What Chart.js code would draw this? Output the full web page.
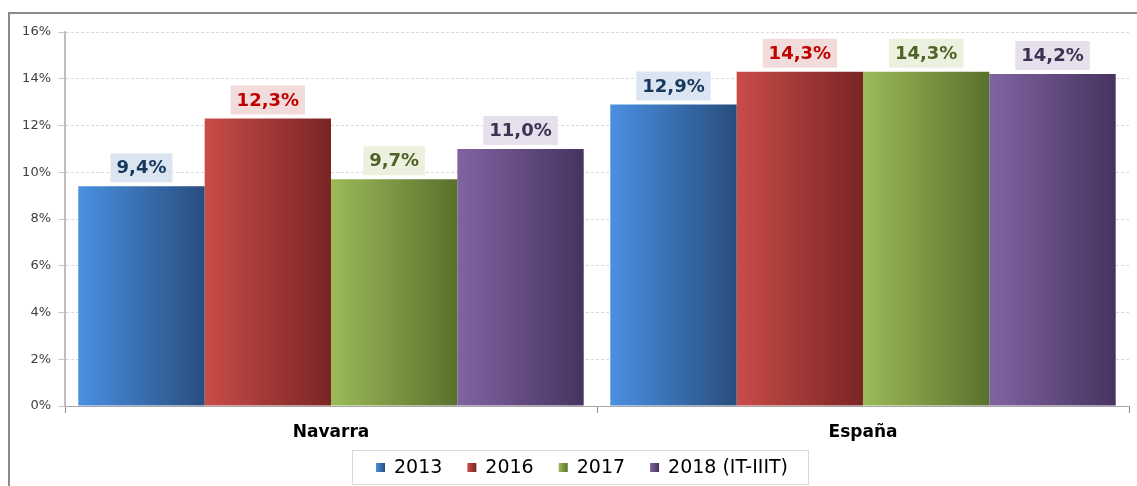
<!DOCTYPE html>
<html>
<head>
<meta charset="utf-8">
<script src="https://cdn.jsdelivr.net/npm/chart.js@4/dist/chart.umd.min.js"></script>
<style>
  html, body { margin: 0; padding: 0; background: #fff; }
  #wrap { width: 1137px; height: 486px; position: relative; }
</style>
</head>
<body>
<div id="wrap"><canvas id="chart" width="1137" height="486"></canvas></div>
<script>
'use strict'

var regions = ['Navarra', 'España'];
var seriesNames = ['2013', '2016', '2017', '2018 (IT-IIIT)'];
var values2013 = [9.4, 12.9];
var values2016 = [12.3, 14.3];
var values2017 = [9.7, 14.3];
var values2018 = [11.0, 14.2];
var yTicks = [0, 2, 4, 6, 8, 10, 12, 14, 16];

// left / right colour of each bar gradient, label text and label box
var barLight = ['#4a90e2', '#c94c48', '#9bbb59', '#8064a2'];
var barDark = ['#284d7e', '#792525', '#5a702c', '#473360'];
var labelText = ['#17375e', '#c00000', '#4f6228', '#3f3151'];
var labelBox = ['#dbe5f1', '#f2dcdb', '#ebf1de', '#e5e0ec'];

var FONT = '"DejaVu Sans", Verdana, sans-serif';
var CAT_PCT = 0.95;

function barGradient(ctx) {
    var chart = ctx.chart;
    var area = chart.chartArea;
    var i = ctx.datasetIndex;
    if (!area || ctx.dataIndex === undefined) {
        return barLight[i];
    }
    var xScale = chart.scales.x;
    var catW = (area.right - area.left) / regions.length;
    var barW = catW * CAT_PCT / seriesNames.length;
    var center = xScale.getPixelForValue(ctx.dataIndex);
    var x0 = center - catW * CAT_PCT / 2 + i * barW;
    var g = chart.ctx.createLinearGradient(x0, 0, x0 + barW, 0);
    g.addColorStop(0, barLight[i]);
    g.addColorStop(1, barDark[i]);
    return g;
}

function makeDataset(idx, values) {
    return {
        label: seriesNames[idx],
        data: values,
        backgroundColor: barGradient,
        borderWidth: 0,
        categoryPercentage: CAT_PCT,
        barPercentage: 1.0
    };
}

// outer frame of the chart (left and top edges)
var framePlugin = {
    id: 'frame',
    beforeDraw: function (chart) {
        var c = chart.ctx;
        c.save();
        c.strokeStyle = '#8a8a8a';
        c.lineWidth = 2;
        c.beginPath();
        c.moveTo(9, 486);
        c.lineTo(9, 13);
        c.lineTo(1137, 13);
        c.stroke();
        c.restore();
    }
};

// value labels sitting on a tinted box above each bar
var valueLabels = {
    id: 'valueLabels',
    afterDatasetsDraw: function (chart) {
        var c = chart.ctx;
        c.save();
        c.font = 'bold 18px ' + FONT;
        c.textAlign = 'center';
        c.textBaseline = 'middle';
        chart.data.datasets.forEach(function (ds, i) {
            var meta = chart.getDatasetMeta(i);
            meta.data.forEach(function (bar, j) {
                var txt = ds.data[j].toFixed(1).replace('.', ',') + '%';
                var w = c.measureText(txt).width + 12;
                var h = 29;
                var yb = bar.y - 4;
                c.fillStyle = labelBox[i];
                c.fillRect(bar.x - w / 2, yb - h, w, h);
                c.fillStyle = labelText[i];
                c.fillText(txt, bar.x, yb - h / 2 + 1);
            });
        });
        c.restore();
    }
};

// boxed legend under the category labels
var boxLegend = {
    id: 'boxLegend',
    afterDraw: function (chart) {
        var c = chart.ctx;
        var left = 352, top = 450, right = 808, bottom = 484;
        c.save();
        c.strokeStyle = '#d9d9d9';
        c.lineWidth = 1;
        c.strokeRect(left + 0.5, top + 0.5, right - left, bottom - top);
        c.font = '19px ' + FONT;
        c.textBaseline = 'middle';
        c.textAlign = 'left';
        var x = 376;
        var cy = 468;
        chart.data.datasets.forEach(function (ds, i) {
            var g = c.createLinearGradient(x, 0, x + 9, 0);
            g.addColorStop(0, barLight[i]);
            g.addColorStop(1, barDark[i]);
            c.fillStyle = g;
            c.fillRect(x, cy - 5, 9, 9);
            c.fillStyle = '#000';
            c.fillText(ds.label, x + 18, cy);
            x += 18 + c.measureText(ds.label).width + 25;
        });
        c.restore();
    }
};

new Chart(document.getElementById('chart'), {
    type: 'bar',
    data: {
        labels: regions,
        datasets: [
            makeDataset(0, values2013),
            makeDataset(1, values2016),
            makeDataset(2, values2017),
            makeDataset(3, values2018)
        ]
    },
    options: {
        responsive: false,
        animation: false,
        layout: {
            padding: { left: 9, top: 32, right: 8, bottom: 0 }
        },
        plugins: {
            legend: { display: false },
            tooltip: { enabled: false }
        },
        scales: {
            x: {
                afterFit: function (scale) { scale.height = 80; },
                grid: {
                    display: true,
                    offset: true,
                    drawOnChartArea: false,
                    tickLength: 7,
                    tickColor: '#8c8c8c'
                },
                border: { display: true, color: '#a6a6a6', width: 1 },
                ticks: {
                    padding: 9,
                    color: '#000',
                    font: { family: FONT, size: 17, weight: 'bold' }
                }
            },
            y: {
                min: 0,
                max: 16,
                afterFit: function (scale) { scale.width = 56; },
                afterBuildTicks: function (scale) {
                    scale.ticks = yTicks.map(function (v) { return { value: v }; });
                },
                grid: {
                    color: '#d9d9d9',
                    tickColor: '#c8c8c8',
                    tickLength: 7,
                    tickBorderDash: []
                },
                border: { display: true, color: '#bfbfbf', width: 2, dash: [3, 2] },
                ticks: {
                    padding: 7,
                    color: '#404040',
                    font: { family: FONT, size: 13 },
                    callback: function (v) { return v + '%'; }
                }
            }
        }
    },
    plugins: [framePlugin, valueLabels, boxLegend]
});
</script>
</body>
</html>
